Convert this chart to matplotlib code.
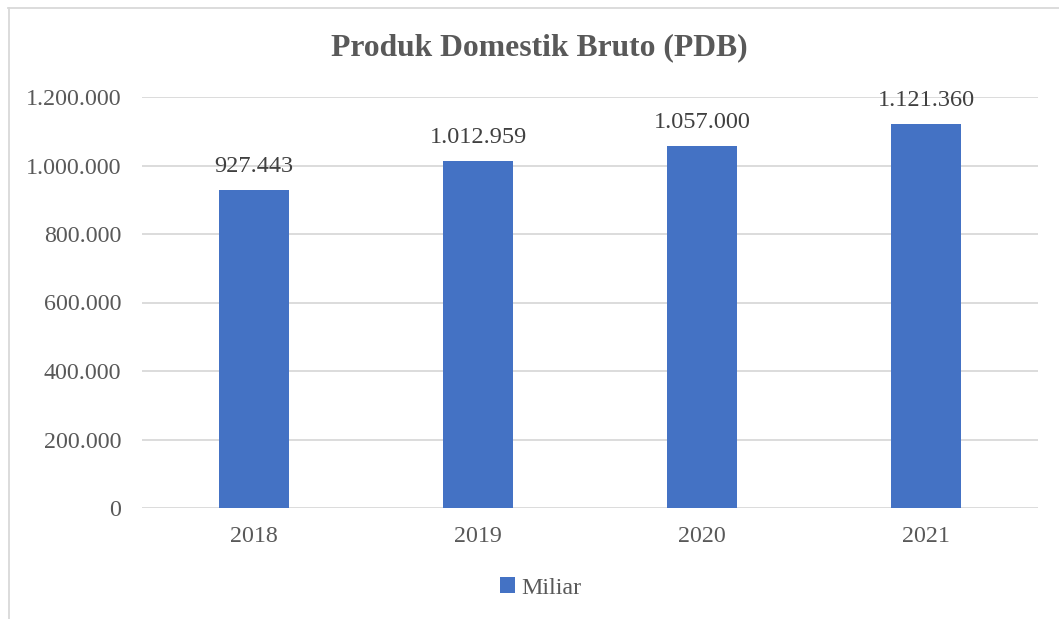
import matplotlib.pyplot as plt
from matplotlib.lines import Line2D
from matplotlib.patches import Patch
from matplotlib.ticker import FuncFormatter

years = ['2018', '2019', '2020', '2021']
pdb = [927443, 1012959, 1057000, 1121360]
yticks = [0, 200000, 400000, 600000, 800000, 1000000, 1200000]

bar_color = '#4472C4'
txt_color = '#595959'
grid_color = '#D9D9D9'

plt.rcParams['font.family'] = ['Liberation Serif', 'DejaVu Serif']


def dotted(v, pos=None):
    # Indonesian style thousands separator
    return '{:,.0f}'.format(v).replace(',', '.')


fig = plt.figure(figsize=(10.59, 6.19), dpi=100)
W, H = 1059., 619.
ax = fig.add_axes([142 / W, 1 - 508 / H, (1038 - 142) / W, (508 - 97) / H])

x = range(len(years))
bars = ax.bar(x, pdb, width=0.315, color=bar_color, zorder=3)

ax.set_xlim(-0.5, len(years) - 0.5)
ax.set_ylim(0, 1200000)
ax.set_yticks(yticks)
ax.yaxis.set_major_formatter(FuncFormatter(dotted))
ax.set_xticks(list(x))
ax.set_xticklabels(years)
ax.tick_params(axis='both', length=0, labelsize=17.3, labelcolor=txt_color)
ax.tick_params(axis='x', pad=13)
ax.tick_params(axis='y', pad=15)
ax.grid(axis='y', color=grid_color, linewidth=1.3, zorder=0)
for s in ax.spines.values():
    s.set_visible(False)

for b, v in zip(bars, pdb):
    ax.annotate(dotted(v), (b.get_x() + b.get_width() / 2, v),
                xytext=(0, 13), textcoords='offset pixels',
                ha='center', va='bottom', fontsize=17.5, color='#404040')

fig.text(539 / W, 1 - 48 / H, 'Produk Domestik Bruto (PDB)', ha='center', va='center',
         fontsize=22.8, fontweight='bold', color=txt_color)

# legend
h = [Patch(facecolor=bar_color, edgecolor='none')]
fig.legend(h, ['Miliar'], loc='center', bbox_to_anchor=(541 / W, 1 - 588 / H),
           frameon=False, fontsize=17.3, labelcolor=txt_color,
           handlelength=0.62, handleheight=0.62, handletextpad=0.25)

# outer chart border (top and left only visible)
fig.add_artist(Line2D([8 / W, 1], [1 - 7.5 / H, 1 - 7.5 / H], color=grid_color, lw=1.3,
                      transform=fig.transFigure))
fig.add_artist(Line2D([8.5 / W, 8.5 / W], [0, 1 - 7.5 / H], color=grid_color, lw=1.3,
                      transform=fig.transFigure))

fig.savefig('out.png', dpi=100, facecolor='white')
